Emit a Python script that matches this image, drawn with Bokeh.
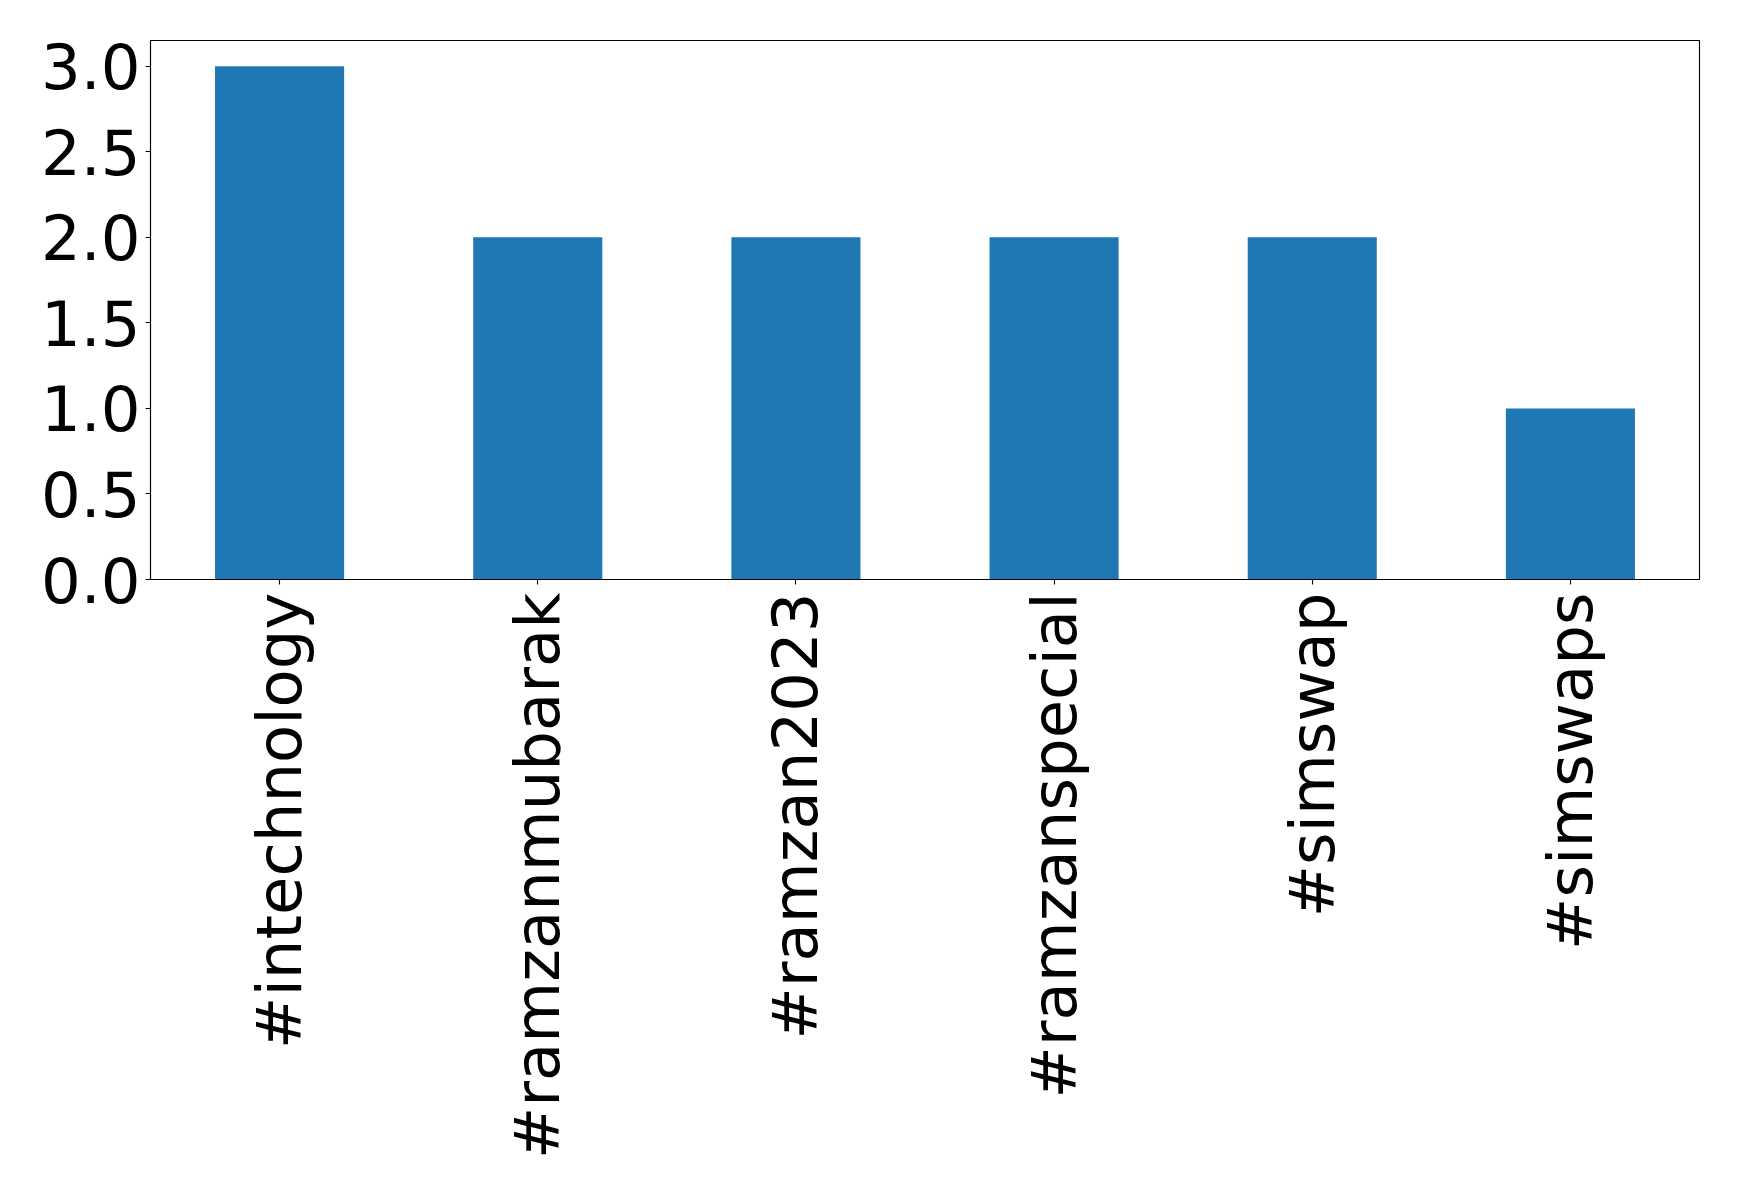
import math
from bokeh.plotting import figure
from bokeh.models import ColumnDataSource, Range1d, FactorRange, SingleIntervalTicker, PrintfTickFormatter
from bokeh.embed import file_html
from bokeh.resources import INLINE

categories = ["#intechnology", "#ramzanmubarak", "#ramzan2023", "#ramzanspecial", "#simswap", "#simswaps"]
counts = [3, 2, 2, 2, 2, 1]

source = ColumnDataSource(data=dict(cat=categories, count=counts))

p = figure(
    x_range=FactorRange(*categories),
    y_range=Range1d(0, 3.15),
    width=1731, height=1186,
    output_backend="svg", toolbar_location=None,
    min_border_left=150, min_border_right=32, min_border_top=40, min_border_bottom=607,
)
p.vbar(x="cat", top="count", width=0.5, source=source, color="#1f77b4", line_color=None)

p.xgrid.grid_line_color = None
p.ygrid.grid_line_color = None
p.outline_line_color = "black"
p.outline_line_width = 1.1

font = "DejaVu Sans"
for ax in (p.xaxis, p.yaxis):
    ax.major_label_text_font = font
    ax.major_label_text_font_size = "62.5px"
    ax.major_label_text_color = "black"
    ax.axis_line_color = "black"
    ax.axis_line_width = 1.1
    ax.major_tick_line_color = "black"
    ax.major_tick_line_width = 1.1
    ax.major_tick_out = 5
    ax.major_tick_in = 0
    ax.minor_tick_line_color = None
    ax.major_label_standoff = 5

p.xaxis.major_label_standoff = 8
p.xaxis.major_label_orientation = math.pi / 2
p.yaxis.ticker = SingleIntervalTicker(interval=0.5)
p.yaxis.formatter = PrintfTickFormatter(format="%.1f")

open("out.html", "w").write(file_html(p, INLINE))
